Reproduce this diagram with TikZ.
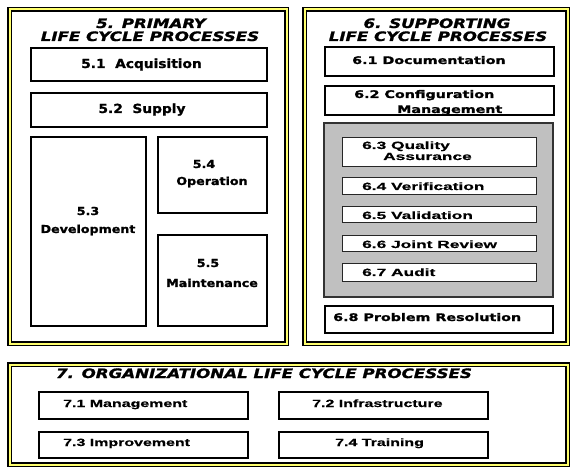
\documentclass[tikz,border=0pt]{standalone}
\usepackage{fontspec}
\setmainfont{DejaVu Sans}
\newfontfamily\heavyfam{DejaVu Sans}[FakeBold=1.2]
\newfontfamily\arialfam{Liberation Sans}[FakeBold=0.4]
\usepackage{graphicx}
\usetikzlibrary{fit}
\newcommand\hstretch[2]{\scalebox{#1}[1]{#2}}
\definecolor{frameyellow}{RGB}{255,255,110}
\definecolor{panelgray}{RGB}{192,192,192}
\begin{document}
\begin{tikzpicture}[x=1pt,y=-1pt,
  frame/.style={draw=black, line width=1.5pt, double=frameyellow, double distance=2pt, inner sep=0pt},
  pbox/.style={draw=black, line width=1.3pt, fill=white, inner sep=0pt},
  sbox/.style={draw=black!85, line width=1pt, fill=white, inner sep=0pt},
  gpanel/.style={draw=black!80, line width=1.6pt, fill=panelgray, inner sep=0pt},
  ttl/.style={inner sep=0pt, font=\fontsize{13}{14}\selectfont\heavyfam\bfseries\itshape},
  bigt/.style={inner sep=0pt, font=\fontsize{12.5}{14}\selectfont\heavyfam\bfseries},
  midt/.style={inner sep=0pt, font=\fontsize{11}{13}\selectfont\heavyfam\bfseries},
  supt/.style={inner sep=0pt, font=\fontsize{10.5}{12}\selectfont\heavyfam\bfseries},
  lt/.style={inner sep=0pt, font=\fontsize{10.5}{12}\selectfont\arialfam\bfseries}]
\useasboundingbox (0,0) rectangle (571,468);
\fill[white] (0,0) rectangle (571,468);

% ---------- frames
\node[frame, fit={(9.5,9.5)(286.5,343.5)}] (primary) {};
\node[frame, fit={(304.5,9.5)(567.5,343.5)}] (supporting) {};
\node[frame, fit={(9.5,364.5)(567.5,464.5)}] (organizational) {};

% ---------- 5. primary
\node[ttl, anchor=base] (pt1) at (151,28) {\hstretch{1.28}{5. PRIMARY}};
\node[ttl, anchor=base] (pt2) at (150,41) {\hstretch{1.28}{LIFE CYCLE PROCESSES}};

\node[pbox, fit={(31,48)(267,81)}] (acq) {};
\node[bigt, anchor=base] (acqt) at (141.5,68) {\hstretch{1.1}{5.1\ \ Acquisition}};
\node[pbox, fit={(31,93)(267,127)}] (sup) {};
\node[bigt, anchor=base] (supt) at (142,113) {\hstretch{1.1}{5.2\ \ Supply}};

\node[pbox, fit={(31,137)(146,326)}] (dev) {};
\node[midt, anchor=base] (devn) at (88,215) {\hstretch{1.15}{5.3}};
\node[midt, anchor=base] (devt) at (88,233) {\hstretch{1.15}{Development}};

\node[pbox, fit={(158,137)(267,213)}] (ope) {};
\node[midt, anchor=base] (open) at (204,168) {\hstretch{1.15}{5.4}};
\node[midt, anchor=base] (opet) at (212,185) {\hstretch{1.15}{Operation}};

\node[pbox, fit={(158,235)(267,326)}] (mai) {};
\node[midt, anchor=base] (main) at (208,267) {\hstretch{1.15}{5.5}};
\node[midt, anchor=base] (mait) at (212,287) {\hstretch{1.15}{Maintenance}};

% ---------- 6. supporting
\node[ttl, anchor=base] (st1) at (437,28) {\hstretch{1.28}{6. SUPPORTING}};
\node[ttl, anchor=base] (st2) at (438,41) {\hstretch{1.28}{LIFE CYCLE PROCESSES}};

\node[pbox, fit={(325,47)(554,76)}] (doc) {};
\node[supt, anchor=base west] (doct) at (352,64) {\hstretch{1.36}{6.1 Documentation}};
\node[pbox, fit={(325,86)(554,115)}] (cfg) {};
\node[supt, anchor=base west] (cfgt1) at (354,98) {\hstretch{1.36}{6.2 Configuration}};
\node[supt, anchor=base west] (cfgt2) at (397,113) {\hstretch{1.36}{Management}};

\node[gpanel, fit={(324,123)(553,297)}] (panel) {};
\node[sbox, fit={(342,138)(536,167)}] (qa) {};
\node[lt, anchor=base west] (qat1) at (362,149) {\hstretch{1.65}{6.3 Quality}};
\node[lt, anchor=base west] (qat2) at (383,160) {\hstretch{1.65}{Assurance}};
\node[sbox, fit={(342,178)(536,195)}] (ver) {};
\node[lt, anchor=base west] (vert) at (362,190) {\hstretch{1.65}{6.4 Verification}};
\node[sbox, fit={(342,207)(536,223)}] (val) {};
\node[lt, anchor=base west] (valt) at (362,219) {\hstretch{1.65}{6.5 Validation}};
\node[sbox, fit={(342,236)(536,252)}] (jr) {};
\node[lt, anchor=base west] (jrt) at (362,248) {\hstretch{1.65}{6.6 Joint Review}};
\node[sbox, fit={(342,264)(536,281)}] (aud) {};
\node[lt, anchor=base west] (audt) at (362,276) {\hstretch{1.65}{6.7 Audit}};

\node[pbox, fit={(325,306)(553,333)}] (pr) {};
\node[supt, anchor=base west] (prt) at (333,321) {\hstretch{1.36}{6.8 Problem Resolution}};

% ---------- 7. organizational
\node[ttl, anchor=base] (ot) at (264,378) {\hstretch{1.28}{7. ORGANIZATIONAL LIFE CYCLE PROCESSES}};
\node[pbox, fit={(39,392)(248,419)}] (mgt) {};
\node[lt, anchor=base west] (mgtt) at (63,407) {\hstretch{1.52}{7.1 Management}};
\node[pbox, fit={(279,392)(488,419)}] (inf) {};
\node[lt, anchor=base west] (inft) at (312,407) {\hstretch{1.52}{7.2 Infrastructure}};
\node[pbox, fit={(39,432)(248,458)}] (imp) {};
\node[lt, anchor=base west] (impt) at (63,446) {\hstretch{1.52}{7.3 Improvement}};
\node[pbox, fit={(279,432)(488,458)}] (trn) {};
\node[lt, anchor=base west] (trnt) at (335,446) {\hstretch{1.52}{7.4 Training}};
\end{tikzpicture}
\end{document}
